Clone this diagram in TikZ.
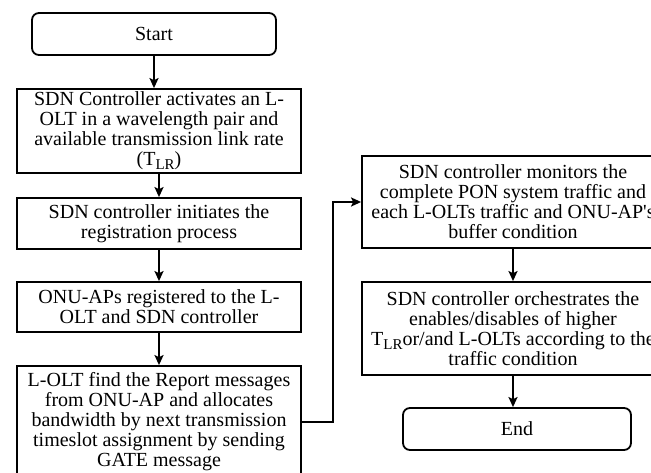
\documentclass[tikz,border=0pt]{standalone}
\usepackage{fontspec}
\setmainfont{Liberation Serif}
\usetikzlibrary{arrows.meta}
% transmission link rate symbol with upright subscript
\newcommand{\tlrate}{T\raisebox{-0.45ex}{\fontsize{15}{15}\selectfont LR}}
\begin{document}
\begin{tikzpicture}[x=1pt,y=-1pt,
  box/.style={draw, line width=1.8pt, align=center, inner sep=0pt,
              font=\fontsize{20}{20}\selectfont},
  term/.style={box, rounded corners=7pt},
  flow/.style={line width=1.8pt, -{Stealth[length=10pt,width=9pt,inset=2pt]}}]
\useasboundingbox (0,0) rectangle (651,473);
\fill[white] (0,0) rectangle (651,473);
\clip (0,0) rectangle (651,473);

% left column
\node[term, minimum width=244pt, minimum height=42pt] (start) at (154,34) {Start};
\node[box, minimum width=284pt, minimum height=84pt] (act) at (159,131)
  {SDN Controller activates an L-\\OLT in a wavelength pair and\\available transmission link rate\\(\tlrate)};
\node[box, minimum width=284pt, minimum height=51pt] (reg) at (159,223.5)
  {SDN controller initiates the\\registration process};
\node[box, minimum width=284pt, minimum height=50pt] (onu) at (159,307)
  {ONU-APs registered to the L-\\OLT and SDN controller};
\node[box, minimum width=284pt, minimum height=112pt] (gate) at (159,422)
  {L-OLT find the Report messages\\from ONU-AP and allocates\\bandwidth by next transmission\\timeslot assignment by sending\\GATE message};

% right column
\node[box, minimum width=302pt, minimum height=92pt] (mon) at (513,202)
  {SDN controller monitors the\\complete PON system traffic and\\each L-OLTs traffic and ONU-AP\textquotesingle s\\buffer condition};
\node[box, minimum width=302pt, minimum height=93pt] (orch) at (513,328.5)
  {SDN controller orchestrates the\\enables/disables of higher\\\tlrate or/and L-OLTs according to the\\traffic condition};
\node[term, minimum width=228pt, minimum height=42pt] (end) at (517,429) {End};

% connectors
\draw[flow] (start.south) -- (start.south |- act.north);
\draw[flow] (act) -- (reg);
\draw[flow] (reg) -- (onu);
\draw[flow] (onu) -- (gate);
\draw[flow] (gate.east) -- ++(31,0) |- (mon.west);
\draw[flow] (mon) -- (orch);
\draw[flow] (orch.south) -- (orch.south |- end.north);
\end{tikzpicture}
\end{document}
